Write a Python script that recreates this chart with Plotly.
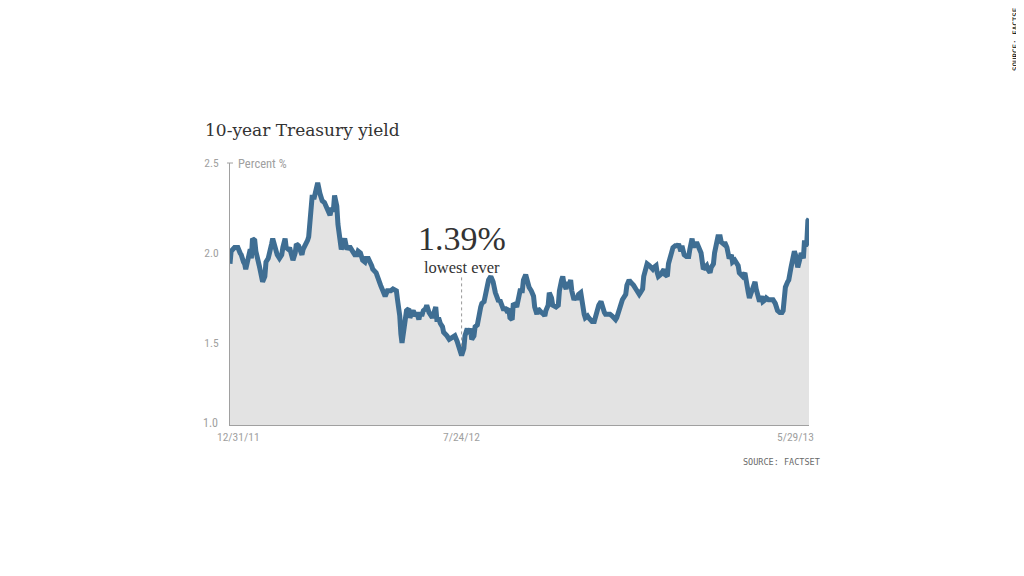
import plotly.graph_objects as go

# ---- data (10-year Treasury yield, %) ----
dates = [
    "2011-12-31",
    "2012-01-01", "2012-01-04", "2012-01-07", "2012-01-09", "2012-01-10", "2012-01-12", "2012-01-13",
    "2012-01-14", "2012-01-15", "2012-01-17", "2012-01-18", "2012-01-19", "2012-01-20", "2012-01-22",
    "2012-01-23", "2012-01-26", "2012-01-28", "2012-01-29", "2012-01-31",
    "2012-02-01", "2012-02-03", "2012-02-04", "2012-02-06", "2012-02-07", "2012-02-09", "2012-02-11",
    "2012-02-13", "2012-02-15", "2012-02-16", "2012-02-18", "2012-02-19", "2012-02-21", "2012-02-22",
    "2012-02-24", "2012-02-25", "2012-02-27", "2012-02-28",
    "2012-03-01", "2012-03-02", "2012-03-04", "2012-03-05", "2012-03-07", "2012-03-09", "2012-03-10",
    "2012-03-12", "2012-03-13", "2012-03-15", "2012-03-17", "2012-03-18", "2012-03-20", "2012-03-22",
    "2012-03-24", "2012-03-26", "2012-03-27", "2012-03-29", "2012-03-30",
    "2012-04-01", "2012-04-02", "2012-04-04", "2012-04-05", "2012-04-07", "2012-04-08", "2012-04-10",
    "2012-04-11", "2012-04-13", "2012-04-14", "2012-04-16", "2012-04-17", "2012-04-19", "2012-04-20",
    "2012-04-22", "2012-04-23", "2012-04-25", "2012-04-26", "2012-04-27", "2012-04-29", "2012-04-30",
    "2012-05-02", "2012-05-03", "2012-05-05", "2012-05-06", "2012-05-08", "2012-05-09", "2012-05-13",
    "2012-05-15", "2012-05-17", "2012-05-19", "2012-05-22", "2012-05-24", "2012-05-27", "2012-05-28",
    "2012-05-30", "2012-05-31",
    "2012-06-01", "2012-06-03", "2012-06-05", "2012-06-07", "2012-06-08", "2012-06-10", "2012-06-11",
    "2012-06-13", "2012-06-14", "2012-06-16", "2012-06-17", "2012-06-19", "2012-06-20", "2012-06-22",
    "2012-06-23", "2012-06-25", "2012-06-26", "2012-06-28", "2012-06-29",
    "2012-07-01", "2012-07-02", "2012-07-04", "2012-07-05", "2012-07-07", "2012-07-08", "2012-07-10",
    "2012-07-11", "2012-07-13", "2012-07-15", "2012-07-17", "2012-07-18", "2012-07-20", "2012-07-21",
    "2012-07-23", "2012-07-24", "2012-07-26", "2012-07-27", "2012-07-29", "2012-07-30",
    "2012-08-01", "2012-08-02", "2012-08-04", "2012-08-05", "2012-08-07", "2012-08-08", "2012-08-10",
    "2012-08-11", "2012-08-13", "2012-08-14", "2012-08-16", "2012-08-17", "2012-08-19", "2012-08-20",
    "2012-08-21", "2012-08-23", "2012-08-25", "2012-08-26", "2012-08-27", "2012-08-29", "2012-08-30",
    "2012-09-01", "2012-09-02", "2012-09-04", "2012-09-05", "2012-09-07", "2012-09-08", "2012-09-10",
    "2012-09-11", "2012-09-13", "2012-09-14", "2012-09-16", "2012-09-17", "2012-09-19", "2012-09-20",
    "2012-09-22", "2012-09-24", "2012-09-26", "2012-09-27", "2012-09-29", "2012-09-30",
    "2012-10-01", "2012-10-03", "2012-10-05", "2012-10-06", "2012-10-07", "2012-10-09", "2012-10-10",
    "2012-10-12", "2012-10-13", "2012-10-15", "2012-10-16", "2012-10-18", "2012-10-19", "2012-10-21",
    "2012-10-22", "2012-10-23", "2012-10-25", "2012-10-26", "2012-10-27", "2012-10-29", "2012-10-30",
    "2012-11-01", "2012-11-02", "2012-11-04", "2012-11-05", "2012-11-07", "2012-11-08", "2012-11-10",
    "2012-11-11", "2012-11-13", "2012-11-14", "2012-11-16", "2012-11-17", "2012-11-19", "2012-11-20",
    "2012-11-22", "2012-11-23", "2012-11-25", "2012-11-26", "2012-11-28", "2012-11-29",
    "2012-12-01", "2012-12-03", "2012-12-05", "2012-12-06", "2012-12-08", "2012-12-09", "2012-12-11",
    "2012-12-12", "2012-12-14", "2012-12-15", "2012-12-17", "2012-12-18", "2012-12-20", "2012-12-21",
    "2012-12-23", "2012-12-24", "2012-12-26", "2012-12-27", "2012-12-29", "2012-12-30",
    "2013-01-01", "2013-01-02", "2013-01-04", "2013-01-05", "2013-01-07", "2013-01-08", "2013-01-10",
    "2013-01-11", "2013-01-13", "2013-01-14", "2013-01-15", "2013-01-17", "2013-01-19", "2013-01-20",
    "2013-01-21", "2013-01-23", "2013-01-24", "2013-01-26", "2013-01-28", "2013-01-30",
    "2013-02-01", "2013-02-02", "2013-02-04", "2013-02-05", "2013-02-07", "2013-02-09", "2013-02-11",
    "2013-02-12", "2013-02-14", "2013-02-15", "2013-02-16", "2013-02-18", "2013-02-19", "2013-02-21",
    "2013-02-22", "2013-02-24", "2013-02-25", "2013-02-27", "2013-02-28",
    "2013-03-02", "2013-03-03", "2013-03-05", "2013-03-06", "2013-03-08", "2013-03-09", "2013-03-11",
    "2013-03-12", "2013-03-14", "2013-03-15", "2013-03-17", "2013-03-18", "2013-03-19", "2013-03-21",
    "2013-03-22", "2013-03-24", "2013-03-25", "2013-03-27", "2013-03-28", "2013-03-30", "2013-03-31",
    "2013-04-02", "2013-04-03", "2013-04-05", "2013-04-06", "2013-04-08", "2013-04-09", "2013-04-11",
    "2013-04-12", "2013-04-14", "2013-04-15", "2013-04-17", "2013-04-18", "2013-04-20", "2013-04-21",
    "2013-04-23", "2013-04-24", "2013-04-26", "2013-04-27", "2013-04-29", "2013-04-30",
    "2013-05-01", "2013-05-03", "2013-05-05", "2013-05-06", "2013-05-07", "2013-05-08", "2013-05-10",
    "2013-05-11", "2013-05-13", "2013-05-14", "2013-05-16", "2013-05-17", "2013-05-18", "2013-05-19",
    "2013-05-21", "2013-05-22", "2013-05-24", "2013-05-25", "2013-05-26", "2013-05-27", "2013-05-28",
    "2013-05-29",
]

yields = [
    1.94,
    2.01, 2.03, 2.03, 2.00, 1.99, 1.95, 1.94, 1.91, 1.94, 2.01, 2.02, 1.97, 2.08, 2.07, 2.01, 1.93, 1.86, 1.84, 1.87,
    1.95, 1.97, 2.01, 2.05, 2.08, 2.03, 1.99, 1.97, 1.99, 2.03, 2.08, 2.03, 2.02, 2.03, 1.97, 1.96, 2.00, 2.05,
    2.04, 2.02, 1.99, 2.02, 2.04, 2.07, 2.09, 2.30, 2.31, 2.31, 2.35, 2.39, 2.33, 2.29, 2.28, 2.25, 2.23, 2.21, 2.24,
    2.24, 2.32, 2.26, 2.16, 2.04, 2.02, 2.06, 2.08, 2.02, 2.03, 2.03, 2.02, 2.00, 1.99, 1.99, 2.01, 2.00, 1.98, 1.96,
    1.95, 1.97,
    1.97, 1.96, 1.93, 1.91, 1.90, 1.89, 1.82, 1.79, 1.76, 1.79, 1.79, 1.80, 1.79, 1.74, 1.65, 1.55,
    1.50, 1.59, 1.68, 1.69, 1.64, 1.67, 1.68, 1.65, 1.67, 1.63, 1.66, 1.66, 1.68, 1.69, 1.71, 1.67, 1.66, 1.64, 1.66,
    1.70, 1.63, 1.63, 1.61, 1.59, 1.56, 1.55, 1.54, 1.52, 1.53, 1.54, 1.54, 1.51, 1.49, 1.46, 1.43, 1.47, 1.54, 1.58,
    1.55,
    1.58, 1.52, 1.54, 1.59, 1.60, 1.65, 1.70, 1.72, 1.73, 1.76, 1.81, 1.85, 1.87, 1.86, 1.84, 1.78, 1.74, 1.73, 1.74,
    1.70, 1.69,
    1.69, 1.68, 1.69, 1.64, 1.63, 1.72, 1.71, 1.70, 1.76, 1.79, 1.79, 1.85, 1.88, 1.85, 1.81, 1.79, 1.76, 1.70, 1.66,
    1.69,
    1.68, 1.67, 1.66, 1.65, 1.68, 1.71, 1.78, 1.75, 1.71, 1.70, 1.70, 1.71, 1.79, 1.85, 1.87, 1.83, 1.80, 1.84, 1.81,
    1.85, 1.79,
    1.74, 1.75, 1.75, 1.77, 1.78, 1.73, 1.66, 1.64, 1.65, 1.64, 1.63, 1.62, 1.62, 1.65, 1.69, 1.71, 1.73, 1.70, 1.67,
    1.66,
    1.66, 1.66, 1.65, 1.64, 1.63, 1.64, 1.67, 1.70, 1.74, 1.75, 1.77, 1.82, 1.85, 1.84, 1.83, 1.82, 1.80, 1.79, 1.77,
    1.78,
    1.80, 1.87, 1.93, 1.94, 1.93, 1.92, 1.91, 1.92, 1.93, 1.89, 1.87, 1.88, 1.91, 1.91, 1.88, 1.87, 1.94, 2.00, 2.03,
    2.04,
    2.04, 2.05, 2.01, 2.04, 1.99, 1.98, 1.98, 2.02, 2.08, 2.04, 2.04, 2.06, 2.04, 2.02, 2.00, 1.91, 1.92, 1.93, 1.91,
    1.89, 1.92, 1.94, 2.00, 2.06, 2.09, 2.09, 2.06, 2.05, 2.06, 2.03, 2.00, 1.97, 1.99, 1.95, 1.96, 1.95, 1.93, 1.89,
    1.88, 1.87,
    1.89, 1.84, 1.78, 1.75, 1.79, 1.82, 1.84, 1.80, 1.76, 1.73, 1.76, 1.73, 1.74, 1.75, 1.74, 1.74, 1.74, 1.74, 1.72,
    1.70,
    1.68, 1.67, 1.67, 1.68, 1.79, 1.81, 1.84, 1.85, 1.92, 1.95, 2.01, 1.99, 1.93, 1.92, 1.97, 2.00, 1.97, 2.07, 2.04,
    2.05, 2.18, 2.19,
]

assert len(dates) == len(yields), (len(dates), len(yields))

x_tick_dates = ["2011-12-31", "2012-07-24", "2013-05-29"]
x_tick_labels = ["12/31/11", "7/24/12", "5/29/13"]
x_tick_shifts = [8, 0, -14]
y_tick_vals = [1.5, 2.0, 2.5]
y_tick_text = ["1.5", "2.0", "2.5"]
low_date = "2012-07-24"
low_label = "1.39%"

# ---- styling ----
LINE = "#3f6e93"
FILL = "#e3e3e3"
GREY = "#a0a0a0"
NARROW = "Liberation Sans Narrow, Roboto Condensed, Arial Narrow, Liberation Sans, sans-serif"
SERIF = "Liberation Serif, DejaVu Serif, serif"
SLAB = "DejaVu Serif, Liberation Serif, serif"
MONO = "DejaVu Sans Mono, Liberation Mono, monospace"

fig = go.Figure()
fig.add_trace(go.Scatter(
    x=dates, y=yields, mode="lines",
    line=dict(color=LINE, width=5),
    fill="tozeroy", fillcolor=FILL,
    hoverinfo="skip", showlegend=False,
))

annotations = [
    dict(text="10-year Treasury yield", xref="paper", yref="paper", x=-0.0466, y=1.126,
         xanchor="left", yanchor="middle", showarrow=False,
         font=dict(family=SLAB, size=17, color="#333333")),
    dict(text="Percent %", xref="paper", yref="paper", x=0.011, y=1.0,
         xanchor="left", yanchor="middle", showarrow=False,
         font=dict(family=NARROW, size=12.5, color=GREY)),
    dict(text="1.0", xref="paper", yref="paper", x=-0.0175, y=0.008,
         xanchor="right", yanchor="middle", showarrow=False,
         font=dict(family=NARROW, size=12, color=GREY)),
    dict(text=low_label, xref="x", yref="paper", x=low_date, y=0.71,
         xanchor="center", yanchor="middle", showarrow=False,
         font=dict(family=SERIF, size=34, color="#333333")),
    dict(text="lowest ever", xref="x", yref="paper", x=low_date, y=0.60,
         xanchor="center", yanchor="middle", showarrow=False,
         font=dict(family=SERIF, size=16.5, color="#333333")),
    dict(text="SOURCE: FACTSET", xref="paper", yref="paper", x=1.0225, y=-0.141,
         xanchor="right", yanchor="middle", showarrow=False,
         font=dict(family=MONO, size=8.5, color="#6a6a6a")),
    dict(text="SOURCE: FACTSET", xref="paper", yref="paper", x=1.3575, y=1.481,
         xanchor="center", yanchor="middle", showarrow=False, textangle=-90,
         font=dict(family=MONO, size=7.5, color="#000000")),
]
for d, lab, sh in zip(x_tick_dates, x_tick_labels, x_tick_shifts):
    annotations.append(dict(text=lab, xref="x", yref="paper", x=d, y=-0.046,
                            xanchor="center", yanchor="middle", xshift=sh, showarrow=False,
                            font=dict(family=NARROW, size=11.5, color=GREY)))

shapes = [
    # dotted pointer for the low
    dict(type="line", xref="x", yref="paper", x0=low_date, x1=low_date, y0=0.30, y1=0.572,
         line=dict(color="#999999", width=1, dash="dot")),
    # small cap tick at top of y axis
    dict(type="line", xref="paper", yref="paper", x0=-0.0052, x1=0.0052, y0=1.0, y1=1.0,
         line=dict(color=GREY, width=1)),
]

y_min = 2.5 - 262 / 180.0

# the page body adds an 8px margin, so the figure is sized to fit inside the window
fig.update_layout(
    width=1016, height=568,
    margin=dict(l=222, r=215, t=155, b=151),
    paper_bgcolor="white", plot_bgcolor="white",
    annotations=annotations, shapes=shapes,
    xaxis=dict(type="date", range=["2011-12-31", "2013-05-29"], showgrid=False, zeroline=False,
               showline=True, linecolor=GREY, linewidth=1, showticklabels=False, ticks=""),
    yaxis=dict(range=[y_min, 2.5], showgrid=False, zeroline=False, showline=True,
               linecolor=GREY, linewidth=1, tickvals=y_tick_vals, ticktext=y_tick_text,
               ticks="", ticklabelstandoff=8,
               tickfont=dict(family=NARROW, size=11.5, color=GREY)),
    hovermode=False,
)

fig.write_html("out.html")
